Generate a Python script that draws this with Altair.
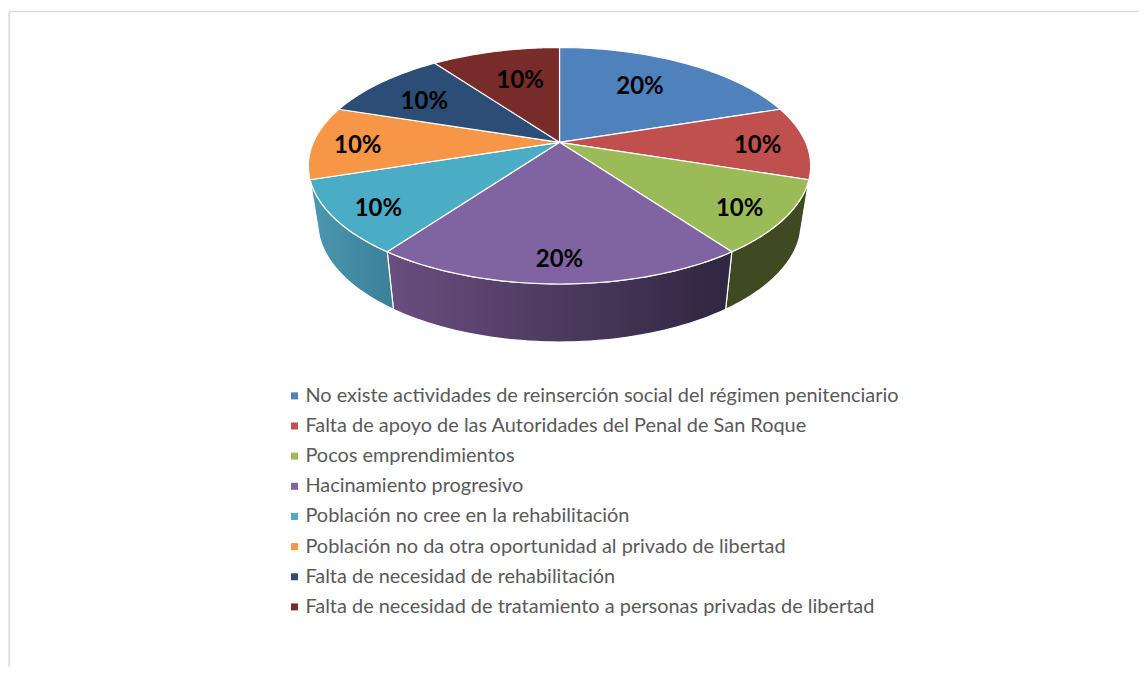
import math
import altair as alt
import pandas as pd

categories = [
    "No existe actividades de reinserción social del régimen penitenciario",
    "Falta de apoyo de las Autoridades del Penal de San Roque",
    "Pocos emprendimientos",
    "Hacinamiento progresivo",
    "Población no cree en la rehabilitación",
    "Población no da otra oportunidad al privado de libertad",
    "Falta de necesidad de rehabilitación",
    "Falta de necesidad de tratamiento a personas privadas de libertad",
]
shares = [20, 10, 10, 20, 10, 10, 10, 10]
colors = ["#4F81BD", "#C0504D", "#9BBB59", "#8064A2", "#4BACC6", "#F79646", "#2C4D75", "#772C2A"]

# layout of the tilted pie (perspective projection of a unit disc), not data
TOP = dict(cx=559.5, cy=142.0, a=246.6, b=113.8, k=0.198)
BOT = dict(cx=559.5, cy=198.25, a=237.3, b=115.0, k=0.2)
label_r = [0.664, 0.802, 0.834, 0.848, 0.837, 0.817, 0.714, 0.647]
label_dt = [-2.9, 1.3, 2.0, 0.0, -1.8, -1.2, -2.1, 1.9]


def project(p, deg, r=1.0):
    t = math.radians(deg)
    X, Y = r * math.sin(t), r * math.cos(t)
    w = 1 + p["k"] * Y
    return p["cx"] + p["a"] * X / w, p["cy"] - p["b"] * Y / w


def rim(p, a0, a1, n=48):
    return [project(p, a0 + (a1 - a0) * i / n) for i in range(n + 1)]


starts, acc = [], 0.0
for s in shares:
    starts.append(acc)
    acc += s * 360.0 / sum(shares)

top_rows, label_rows = [], []
for i, (c, s, a0) in enumerate(zip(categories, shares, starts)):
    a1 = a0 + s * 3.6
    pts = [(TOP["cx"], TOP["cy"])] + rim(TOP, a0, a1) + [(TOP["cx"], TOP["cy"])]
    for j, (x, y) in enumerate(pts):
        top_rows.append(dict(cat=c, x=x, y=y, o=j))
    lx, ly = project(TOP, (a0 + a1) / 2 + label_dt[i], label_r[i])
    label_rows.append(dict(x=lx, y=ly, t=f"{s}%"))

X = alt.X("x:Q", axis=None, scale=alt.Scale(domain=[8, 1140], nice=False, zero=False))
Y = alt.Y("y:Q", axis=None, scale=alt.Scale(domain=[8, 667], nice=False, zero=False, reverse=True))


def gradient(stops):
    return alt.Gradient(
        gradient="linear", x1=0, x2=1, y1=0, y2=0,
        stops=[alt.GradientStop(offset=o, color=c) for o, c in stops],
    )


wall_fills = {
    2: [(0, "#3F4A22"), (1, "#3F4A22")],
    3: [(0, "#694E80"), (0.5, "#4D3A5E"), (1, "#2F2640")],
    4: [(0, "#4A98B0"), (1, "#3C7F97")],
}
layers = []
for i, st in wall_fills.items():
    a0 = starts[i]
    a1 = a0 + shares[i] * 3.6
    pts = rim(TOP, a0, a1) + rim(BOT, a1, a0)
    pts.append(pts[0])
    df = pd.DataFrame([dict(x=x, y=y, o=j) for j, (x, y) in enumerate(pts)])
    layers.append(
        alt.Chart(df)
        .mark_line(filled=True, fill=gradient(st), stroke="white", strokeWidth=1.2, strokeJoin="round")
        .encode(x=X, y=Y, order="o:Q")
    )

top = (
    alt.Chart(pd.DataFrame(top_rows))
    .mark_line(filled=True, stroke="white", strokeWidth=1.2, strokeJoin="round")
    .encode(
        x=X,
        y=Y,
        order="o:Q",
        detail="cat:N",
        fill=alt.Fill(
            "cat:N",
            scale=alt.Scale(domain=categories, range=colors),
            sort=categories,
            legend=alt.Legend(
                title=None,
                orient="none",
                legendX=276,
                legendY=378,
                symbolType="square",
                symbolSize=49,
                symbolStrokeWidth=0,
                labelFont="Lato",
                labelFontSize=19.95,
                labelColor="#595959",
                labelLimit=800,
                labelOffset=1,
                rowPadding=9.2,
                columns=1,
            ),
        ),
    )
)
layers.append(top)

labels = (
    alt.Chart(pd.DataFrame(label_rows))
    .mark_text(font="Lato", fontWeight="bold", fontSize=24, color="black", baseline="middle", align="center", dy=2)
    .encode(x=X, y=Y, text="t:N")
)
layers.append(labels)

frame_top = alt.Chart(pd.DataFrame([dict(x=8, x2=1140, y=11)])).mark_rule(color="#DCDCDC", strokeWidth=1.5).encode(
    x=X, x2="x2:Q", y=Y
)
frame_left = alt.Chart(pd.DataFrame([dict(x=8.2, y=11, y2=667)])).mark_rule(color="#E0E0E0", strokeWidth=2).encode(
    x=X, y=Y, y2="y2:Q"
)

chart = (
    alt.layer(frame_top, frame_left, *layers)
    .properties(width=1132, height=659, padding=0)
    .configure_view(strokeWidth=0)
)
chart.save("out.html", embed_options={"renderer": "svg", "actions": False})
